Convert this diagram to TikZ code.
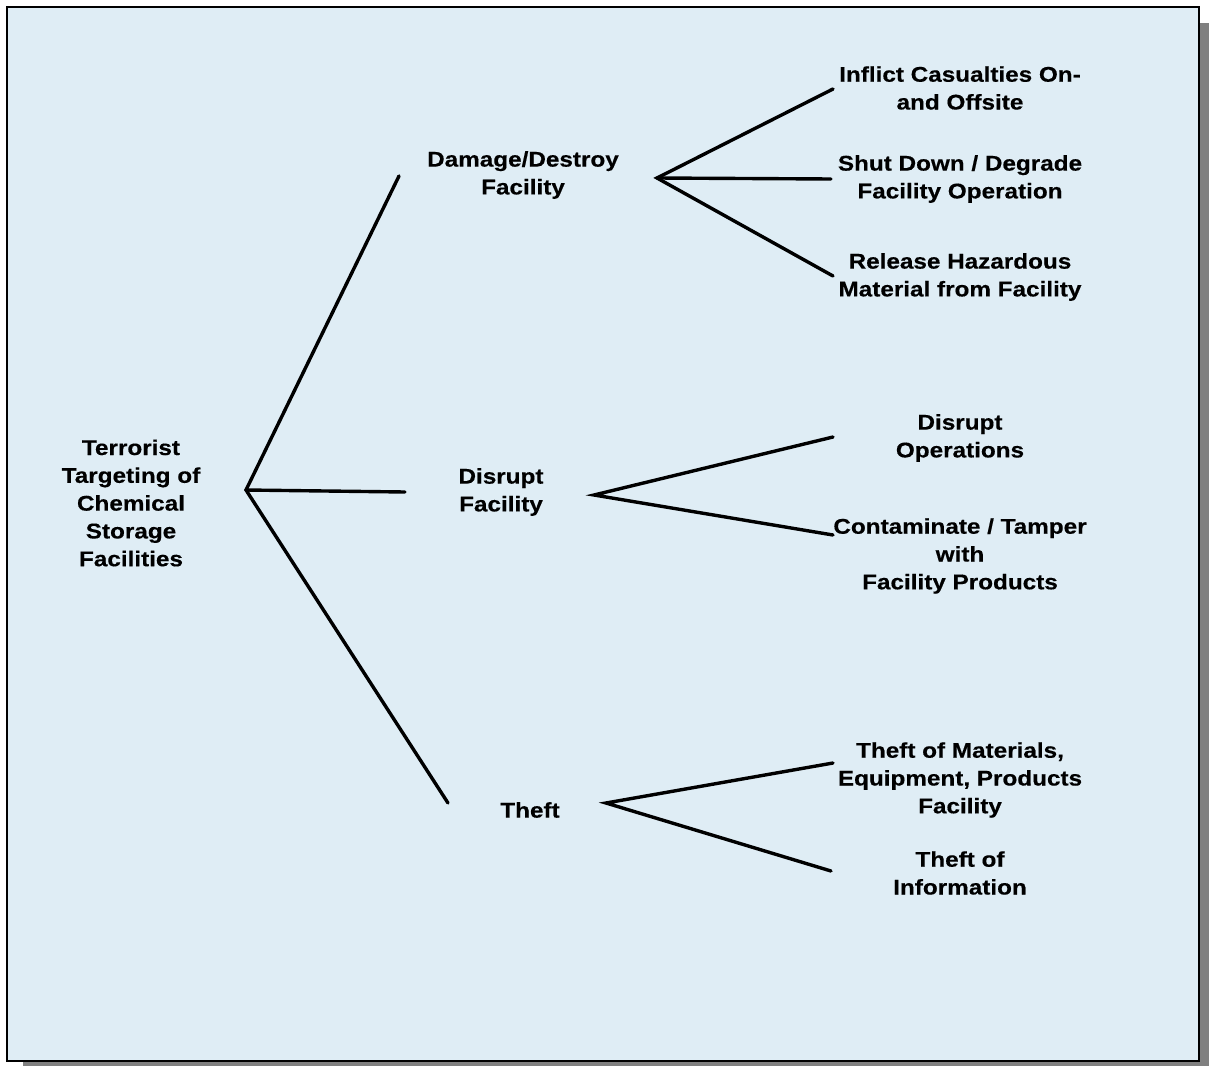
\documentclass[tikz,border=0pt]{standalone}
\usepackage{fontspec}
\setmainfont{Liberation Sans}[FakeStretch=1.14,FakeBold=0.4]
\definecolor{bgblue}{RGB}{223,237,245}
\definecolor{shadowgray}{RGB}{128,128,128}
\begin{document}
\begin{tikzpicture}[x=1pt,y=-1pt,
  lbl/.style={align=center,inner sep=0pt,font=\fontsize{21.3}{27.8}\selectfont\bfseries},
  branch/.style={line width=3.4pt,line cap=round}]
\useasboundingbox (0,0) rectangle (1209,1065);
\fill[white] (0,0) rectangle (1209,1065);
\begin{scope}
\clip (0,0) rectangle (1209,1065);
\fill[shadowgray] (23,23) rectangle (1216,1078);
\end{scope}
\draw[line width=2pt,fill=bgblue] (7,7) rectangle (1199,1061);

\node[lbl] (root) at (131,503) {Terrorist\\Targeting of\\Chemical\\Storage\\Facilities};
\node[lbl] (dmg) at (523,175) {Damage/Destroy\\Facility};
\node[lbl] (dis) at (501,492) {Disrupt\\Facility};
\node[lbl] (thf) at (530,810) {Theft};
\node[lbl] (d1) at (960,88) {Inflict Casualties On-\\and Offsite};
\node[lbl] (d2) at (960,179) {Shut Down / Degrade\\Facility Operation};
\node[lbl] (d3) at (960,277) {Release Hazardous\\Material from Facility};
\node[lbl] (s1) at (960,438) {Disrupt\\Operations};
\node[lbl] (s2) at (960,556) {Contaminate / Tamper\\with\\Facility Products};
\node[lbl] (t1) at (960,780) {Theft of Materials,\\Equipment, Products\\Facility};
\node[lbl] (t2) at (960,873) {Theft of\\Information};

\coordinate (rj) at (246,490);
\coordinate (re1) at (399,176);
\coordinate (re2) at (405,492);
\coordinate (re3) at (448,803);
\coordinate (dj) at (657,178);
\coordinate (de1) at (833,89);
\coordinate (de2) at (831,179);
\coordinate (de3) at (833,276);
\coordinate (sj) at (594,495);
\coordinate (se1) at (833,437);
\coordinate (se2) at (833,535);
\coordinate (tj) at (606,803);
\coordinate (te1) at (833,763);
\coordinate (te2) at (831,871);

\draw[branch] (re1) -- (rj) -- (re3);
\draw[branch] (rj) -- (re2);
\draw[branch] (de1) -- (dj) -- (de3);
\draw[branch] (dj) -- (de2);
\draw[branch] (se1) -- (sj) -- (se2);
\draw[branch] (te1) -- (tj) -- (te2);
\end{tikzpicture}
\end{document}
